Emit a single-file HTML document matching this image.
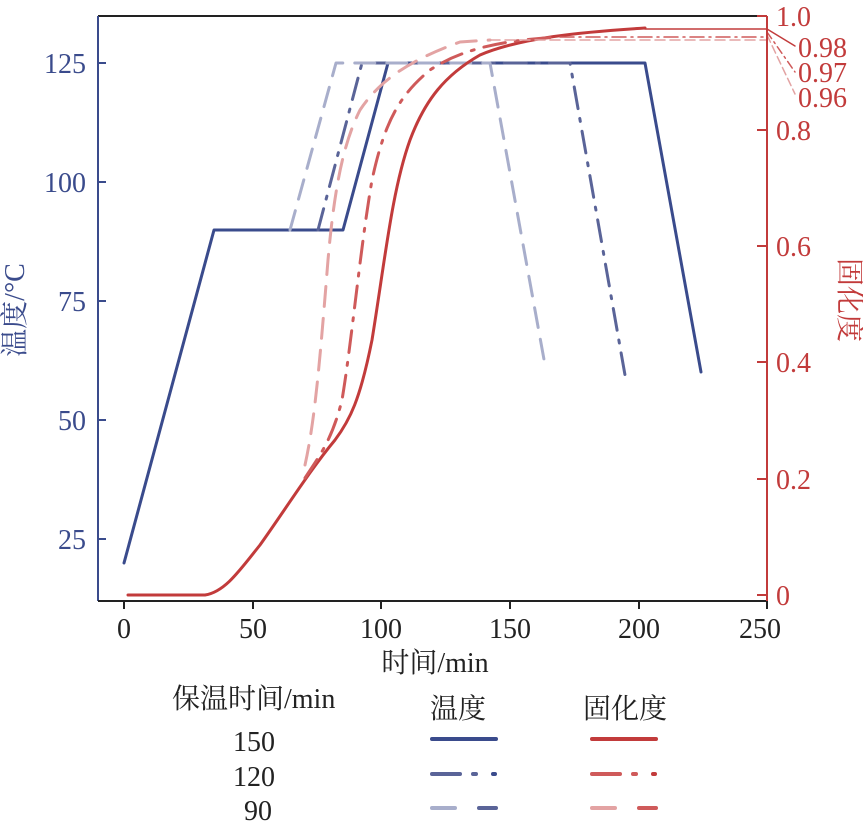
<!DOCTYPE html><html><head><meta charset="utf-8"><style>body{margin:0;background:#fff}</style></head><body>
<svg width="863" height="831" xmlns="http://www.w3.org/2000/svg" font-family="Liberation Serif, Noto Serif CJK SC, serif">
<g fill="none" stroke-linecap="round" stroke-linejoin="round">
<polyline points="124,563 214,230 343,230 388,63 645,63 701,372" stroke="#3a4b8c" stroke-width="3"/>
<polyline points="318,230 362,63 570,63 625,375" stroke="#5a6498" stroke-width="3" stroke-dasharray="22,10,3,10"/>
<polyline points="290,230 336,63 490,63 545,365" stroke="#a8aecb" stroke-width="3" stroke-dasharray="20,12"/>
<path d="M128,595 L205,595 C225,592 240,570 260,545 C285,510 310,470 335,440 C350,420 360,400 372,340 C385,260 392,190 410,140 C425,100 445,75 480,55 C520,38 580,32 645,28" stroke="#c23b3b" stroke-width="3"/>
<path d="M305,478 C320,455 332,440 342,400 C352,340 360,250 372,180 C385,120 400,95 430,70 C460,50 500,40 560,37" stroke="#cf5a5a" stroke-width="3" stroke-dasharray="22,10,3,10"/>
<path d="M305,465 C315,420 320,360 328,260 C335,180 345,140 360,110 C380,80 410,60 460,42 L490,40" stroke="#e3a3a3" stroke-width="3" stroke-dasharray="20,12"/>
<line x1="645" y1="29" x2="767" y2="29" stroke="#c23b3b" stroke-width="1.5"/>
<line x1="560" y1="37" x2="767" y2="37" stroke="#cf5a5a" stroke-width="1.5" stroke-dasharray="14,5,2,5"/>
<line x1="490" y1="40" x2="767" y2="40" stroke="#e3a3a3" stroke-width="1.5" stroke-dasharray="10,5"/>
<line x1="767" y1="29" x2="795" y2="46" stroke="#c23b3b" stroke-width="1.5"/>
<line x1="767" y1="32" x2="795" y2="72" stroke="#cf5a5a" stroke-width="1.5" stroke-dasharray="8,4,2,4"/>
<line x1="767" y1="35" x2="795" y2="94" stroke="#e3a3a3" stroke-width="1.5" stroke-dasharray="8,4"/>
</g>
<line x1="98" y1="16" x2="767" y2="16" stroke="#222" stroke-width="2"/>
<line x1="98" y1="16" x2="98" y2="601" stroke="#3a4b8c" stroke-width="2"/>
<line x1="98" y1="601" x2="767" y2="601" stroke="#222" stroke-width="2"/>
<line x1="767" y1="16" x2="767" y2="601" stroke="#c23b3b" stroke-width="2"/>
<g stroke="#222" stroke-width="2">
<line x1="124" y1="601" x2="124" y2="609"/><line x1="253" y1="601" x2="253" y2="609"/><line x1="381" y1="601" x2="381" y2="609"/><line x1="510" y1="601" x2="510" y2="609"/><line x1="639" y1="601" x2="639" y2="609"/><line x1="767" y1="601" x2="767" y2="609"/>
</g>
<g stroke="#3a4b8c" stroke-width="2">
<line x1="98" y1="63" x2="106" y2="63"/><line x1="98" y1="182" x2="106" y2="182"/><line x1="98" y1="301" x2="106" y2="301"/><line x1="98" y1="420" x2="106" y2="420"/><line x1="98" y1="539" x2="106" y2="539"/>
</g>
<g stroke="#c23b3b" stroke-width="2">
<line x1="757" y1="16" x2="767" y2="16"/><line x1="757" y1="130" x2="767" y2="130"/><line x1="757" y1="246" x2="767" y2="246"/><line x1="757" y1="362" x2="767" y2="362"/><line x1="757" y1="479" x2="767" y2="479"/><line x1="757" y1="595" x2="767" y2="595"/>
</g>
<g font-size="28" fill="#222" text-anchor="middle">
<text x="124" y="638">0</text><text x="253" y="638">50</text><text x="381" y="638">100</text><text x="510" y="638">150</text><text x="639" y="638">200</text><text x="760" y="638">250</text>
<text x="435" y="672">时间/min</text>
</g>
<g font-size="28" fill="#3a4b8c" text-anchor="end">
<text x="86" y="73">125</text><text x="86" y="192">100</text><text x="86" y="311">75</text><text x="86" y="430">50</text><text x="86" y="549">25</text>
</g>
<text transform="translate(24,310) rotate(-90)" font-size="28" fill="#3a4b8c" text-anchor="middle">温度/°C</text>
<g font-size="28" fill="#c23b3b">
<text x="776" y="26">1.0</text><text x="776" y="140">0.8</text><text x="776" y="256">0.6</text><text x="776" y="372">0.4</text><text x="776" y="489">0.2</text><text x="776" y="605">0</text>
<text x="798" y="57">0.98</text><text x="798" y="82">0.97</text><text x="798" y="107">0.96</text>
</g>
<text transform="translate(840,300) rotate(90)" font-size="28" fill="#c23b3b" text-anchor="middle">固化度</text>
<g font-size="28" fill="#222">
<text x="172" y="708">保温时间/min</text>
<text x="430" y="718">温度</text><text x="583" y="718">固化度</text>
<text x="233" y="751">150</text><text x="233" y="786">120</text><text x="244" y="820">90</text>
</g>
<g stroke-width="4" stroke-linecap="round">
<line x1="432" y1="739" x2="496" y2="739" stroke="#3a4b8c"/>
<line x1="592" y1="739" x2="656" y2="739" stroke="#c23b3b"/>
<line x1="432" y1="774" x2="460" y2="774" stroke="#5a6498"/><line x1="473" y1="774" x2="476" y2="774" stroke="#5a6498"/><line x1="493" y1="774" x2="495" y2="774" stroke="#3a4b8c"/>
<line x1="592" y1="774" x2="620" y2="774" stroke="#cf5a5a"/><line x1="633" y1="774" x2="636" y2="774" stroke="#cf5a5a"/><line x1="653" y1="774" x2="655" y2="774" stroke="#c23b3b"/>
<line x1="432" y1="808" x2="455" y2="808" stroke="#a8aecb"/><line x1="479" y1="808" x2="496" y2="808" stroke="#5a6498"/>
<line x1="592" y1="808" x2="615" y2="808" stroke="#e3a3a3"/><line x1="639" y1="808" x2="656" y2="808" stroke="#cf5a5a"/>
</g>
</svg></body></html>
